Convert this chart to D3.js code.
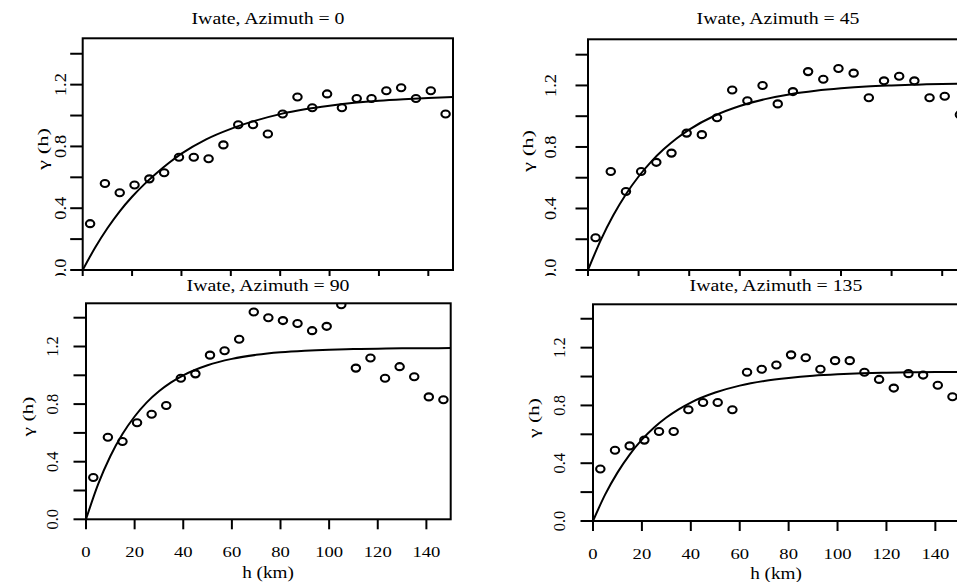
<!DOCTYPE html>
<meta charset="utf-8">
<title>Iwate directional variograms</title>
<style>
body { margin: 0; background: white; }
svg { display: block; }
text { font-family: "Liberation Serif", "Times New Roman", serif; fill: black; }
</style>
<body>
<div id="chart"></div>
<script src="https://cdn.jsdelivr.net/npm/d3@7"></script>
<script>

// lag centres (km) and empirical semivariances per direction
var lags = [3, 9, 15, 21, 27, 33, 39, 45, 51, 57, 63, 69, 75, 81, 87, 93, 99, 105, 111, 117, 123, 129, 135, 141, 147];

var gamma0 = [0.30, 0.56, 0.50, 0.55, 0.59, 0.63, 0.73, 0.73, 0.72, 0.81, 0.94, 0.94, 0.88, 1.01, 1.12, 1.05, 1.14, 1.05, 1.11, 1.11, 1.16, 1.18, 1.11, 1.16, 1.01];
var gamma45 = [0.21, 0.64, 0.51, 0.64, 0.70, 0.76, 0.89, 0.88, 0.99, 1.17, 1.10, 1.20, 1.08, 1.16, 1.29, 1.24, 1.31, 1.28, 1.12, 1.23, 1.26, 1.23, 1.12, 1.13, 1.01];
var gamma90 = [0.29, 0.57, 0.54, 0.67, 0.73, 0.79, 0.98, 1.01, 1.14, 1.17, 1.25, 1.44, 1.40, 1.38, 1.36, 1.31, 1.34, 1.49, 1.05, 1.12, 0.98, 1.06, 0.99, 0.85, 0.83];
var gamma135 = [0.36, 0.49, 0.52, 0.56, 0.62, 0.62, 0.77, 0.82, 0.82, 0.77, 1.03, 1.05, 1.08, 1.15, 1.13, 1.05, 1.11, 1.11, 1.03, 0.98, 0.92, 1.02, 1.01, 0.94, 0.86];

// fitted model curves
var fitH = [0, 5, 10, 15, 20, 25, 30, 35, 40, 50, 60, 70, 80, 90, 100, 110, 120, 130, 140, 150];
var fit0 = [0, 0.144, 0.27, 0.38, 0.474, 0.556, 0.628, 0.694, 0.753, 0.846, 0.914, 0.967, 1.009, 1.04, 1.063, 1.082, 1.096, 1.106, 1.114, 1.12];
var fit45 = [0, 0.193, 0.356, 0.493, 0.608, 0.705, 0.786, 0.855, 0.913, 1.003, 1.066, 1.111, 1.143, 1.165, 1.181, 1.193, 1.2, 1.205, 1.21, 1.213];
var fit90 = [0, 0.244, 0.438, 0.592, 0.714, 0.812, 0.889, 0.951, 1.0, 1.07, 1.114, 1.142, 1.16, 1.171, 1.178, 1.182, 1.185, 1.187, 1.188, 1.189];
var fit135 = [0, 0.184, 0.335, 0.46, 0.563, 0.647, 0.716, 0.773, 0.82, 0.889, 0.937, 0.969, 0.99, 1.005, 1.015, 1.022, 1.026, 1.029, 1.031, 1.032];

var xTicks = [0, 20, 40, 60, 80, 100, 120, 140];
var yTicks = [0, 0.2, 0.4, 0.6, 0.8, 1.0, 1.2, 1.4];
var yLabels = [0, 0.4, 0.8, 1.2];

var W = 957, H = 582;
var SX = 1.2; // text in the picture is a little wide

var svg = d3.select("#chart").append("svg")
    .attr("width", W).attr("height", H);

// each panel's frame, taken from the reference layout
var panels = [
  {title: "Iwate, Azimuth = 0", g: gamma0, fit: fit0, l: 82.7, r: 453, t: 38.3, b: 270,
   tx: 268, ty: 18.5, tickX: 60, tickFs: 17, tickSx: 1.08, labX: 42.5, labY: 149, labLen: 42, xlab: false},
  {title: "Iwate, Azimuth = 45", g: gamma45, fit: fit45, l: 588, r: 967.5, t: 39.3, b: 270,
   tx: 778, ty: 18.5, tickX: 550, tickFs: 17, tickSx: 1.08, labX: 527.5, labY: 151, labLen: 42, xlab: false},
  {title: "Iwate, Azimuth = 90", g: gamma90, fit: fit90, l: 86, r: 450.7, t: 303.3, b: 519.3,
   tx: 268, ty: 285, tickX: 52.5, tickFs: 16.5, tickSx: 1.0, labX: 28, labY: 416.5, labLen: 40,
   xlab: true, lx: 268, tlY: 552, xlY: 572},
  {title: "Iwate, Azimuth = 135", g: gamma135, fit: fit135, l: 593, r: 959.8, t: 304.3, b: 521,
   tx: 776, ty: 285, tickX: 559, tickFs: 16.5, tickSx: 1.0, labX: 534, labY: 418, labLen: 40,
   xlab: true, lx: 776, tlY: 553.5, xlY: 573.5}
];

function flat(sel, x, y) {
  sel.attr("transform", "translate(" + x + "," + y + ") scale(" + SX + ",1)");
}
function upright(sel, x, y, s) {
  sel.attr("transform", "translate(" + x + "," + y + ") rotate(-90) scale(" + s + ",1)");
}

function drawPanel(p, i) {
  var x = d3.scaleLinear().domain([0, 150]).range([p.l, p.r]);
  var y = d3.scaleLinear().domain([0, 1.5]).range([p.b, p.t]);
  var g = svg.append("g");

  g.append("clipPath").attr("id", "clip" + i)
    .append("rect").attr("x", p.l).attr("y", p.t)
    .attr("width", p.r - p.l).attr("height", p.b - p.t);

  var inner = g.append("g").attr("clip-path", "url(#clip" + i + ")");

  var line = d3.line()
    .x(function(d, k) { return x(fitH[k]); })
    .y(function(d) { return y(d); })
    .curve(d3.curveMonotoneX);

  inner.append("path")
    .datum(p.fit)
    .attr("d", line)
    .attr("fill", "none")
    .attr("stroke", "black")
    .attr("stroke-width", 2);

  inner.selectAll("ellipse")
    .data(p.g)
    .enter().append("ellipse")
    .attr("cx", function(d, k) { return x(lags[k]); })
    .attr("cy", function(d) { return y(d); })
    .attr("rx", 4.2)
    .attr("ry", 3.5)
    .attr("fill", "none")
    .attr("stroke", "black")
    .attr("stroke-width", 2.1);

  // frame
  g.append("rect")
    .attr("x", p.l).attr("y", p.t)
    .attr("width", p.r - p.l).attr("height", p.b - p.t)
    .attr("fill", "none").attr("stroke", "black").attr("stroke-width", 2);

  // y axis
  g.selectAll(".yt").data(yTicks).enter().append("line")
    .attr("x1", p.l - 12.5).attr("x2", p.l)
    .attr("y1", function(d) { return y(d); })
    .attr("y2", function(d) { return y(d); })
    .attr("stroke", "black").attr("stroke-width", 2);

  g.selectAll(".yl").data(yLabels).enter().append("text")
    .attr("text-anchor", "middle")
    .attr("dy", "0.35em")
    .style("font-size", p.tickFs + "px")
    .text(function(d) { return d3.format(".1f")(d); })
    .each(function(d) { upright(d3.select(this), p.tickX, y(d), p.tickSx); });

  // x axis
  g.selectAll(".xt").data(xTicks).enter().append("line")
    .attr("x1", function(d) { return x(d); })
    .attr("x2", function(d) { return x(d); })
    .attr("y1", p.b).attr("y2", p.b + 10)
    .attr("stroke", "black").attr("stroke-width", 2);

  if (p.xlab) {
    g.selectAll(".xl").data(xTicks).enter().append("text")
      .attr("text-anchor", "middle")
      .attr("dy", "0.35em")
      .style("font-size", "15.5px")
      .text(function(d) { return d; })
      .each(function(d) { flat(d3.select(this), x(d), p.tlY); });

    g.append("text")
      .attr("text-anchor", "middle")
      .attr("dy", "0.35em")
      .style("font-size", "16px")
      .text("h (km)")
      .call(flat, p.lx, p.xlY);
  }

  g.append("text")
    .attr("text-anchor", "middle")
    .attr("dy", "0.35em")
    .attr("textLength", p.labLen)
    .attr("lengthAdjust", "spacingAndGlyphs")
    .style("font-size", "15px")
    .text("\u03b3 (h)")
    .call(upright, p.labX, p.labY, 1);

  g.append("text")
    .attr("text-anchor", "middle")
    .attr("dy", "0.35em")
    .style("font-size", "16.5px")
    .text(p.title)
    .call(flat, p.tx, p.ty);
}

drawPanel(panels[0], 0);
drawPanel(panels[1], 1);

// lower row was pasted over the bottom of the upper row
svg.append("rect")
  .attr("x", 0).attr("y", 276)
  .attr("width", W).attr("height", H - 276)
  .attr("fill", "white");

drawPanel(panels[2], 2);
drawPanel(panels[3], 3);

</script>
</body>
